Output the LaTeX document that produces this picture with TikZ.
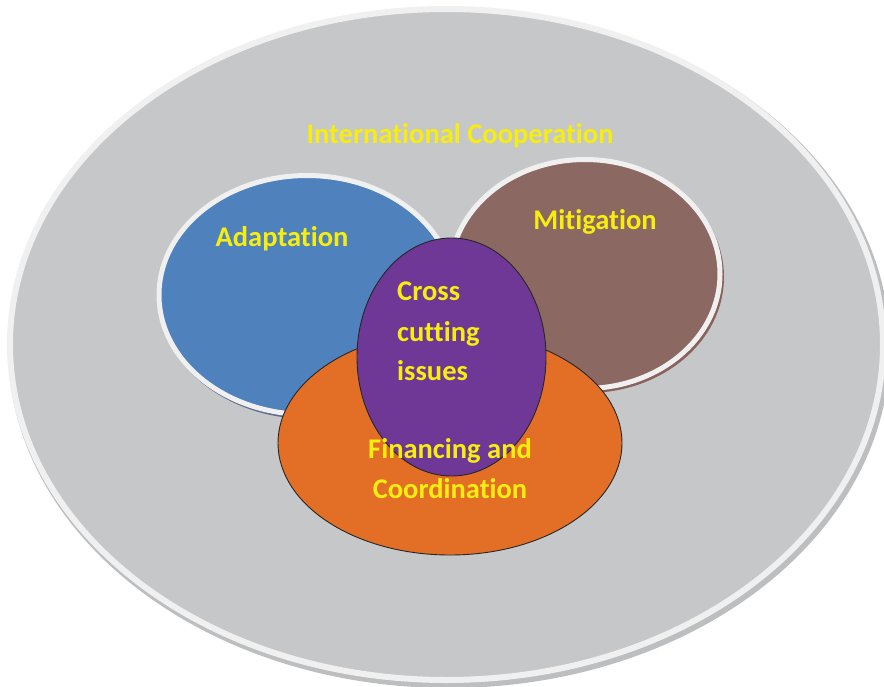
\documentclass[tikz,border=0pt]{standalone}
\usepackage{fontspec}
\setmainfont{Carlito}[Ligatures={NoCommon}]
\usetikzlibrary{shapes.geometric}
\definecolor{outerfill}{HTML}{C6C7C9}
\definecolor{rim}{HTML}{F0F0F0}
\definecolor{outershadow}{HTML}{BDBEC0}
\definecolor{adaptblue}{HTML}{4F81BD}
\definecolor{blueshadow}{HTML}{5F6B8C}
\definecolor{mitbrown}{HTML}{8B6862}
\definecolor{brownshadow}{HTML}{8A625B}
\definecolor{finorange}{HTML}{E36F26}
\definecolor{crosspurple}{HTML}{6F3896}
\definecolor{txtyellow}{HTML}{F7EE0F}
\tikzset{
  blob/.style={ellipse, inner sep=0pt, outer sep=0pt},
  rimmed/.style={blob, draw=rim, line width=5pt},
  outlined/.style={blob, draw=black!85, line width=0.9pt},
  lbl/.style={text=txtyellow, font=\bfseries\fontsize{28.5}{40}\selectfont, inner sep=0pt, anchor=base},
}
\begin{document}
\begin{tikzpicture}[x=1pt,y=-1pt]
\useasboundingbox[fill=white] (0,0) rectangle (884,686);
% outer
\node[blob, fill=outershadow, minimum width=882pt, minimum height=680pt] (outersh) at (449,348) {};
\node[blob, fill=outerfill, draw=rim, line width=6pt, minimum width=873pt, minimum height=671pt] (outer) at (446.5,344.5) {};
% adaptation
\node[blob, fill=blueshadow, minimum width=300pt, minimum height=242pt] (adaptsh) at (309,298) {};
\node[rimmed, fill=adaptblue, minimum width=296pt, minimum height=239pt] (adapt) at (307,295) {};
% mitigation
\node[blob, fill=brownshadow, minimum width=274pt, minimum height=232pt] (mitsh) at (587,277) {};
\node[rimmed, fill=mitbrown, minimum width=270pt, minimum height=229pt] (mit) at (585,274) {};
% financing
\node[outlined, fill=finorange, minimum width=344pt, minimum height=224pt] (fin) at (450,443) {};
% cross cutting
\node[outlined, fill=crosspurple, minimum width=189pt, minimum height=238pt] (cross) at (451.5,357) {};
% labels
\node[lbl] (tIC) at (460,143) {International Cooperation};
\node[lbl] (tA) at (282,246) {Adaptation};
\node[lbl] (tM) at (595,229) {Mitigation};
\node[lbl, anchor=base west] (tC1) at (397,300) {Cross};
\node[lbl, anchor=base west] (tC2) at (397,341) {cutting};
\node[lbl, anchor=base west] (tC3) at (397,380) {issues};
\node[lbl] (tF1) at (450,458) {Financing and};
\node[lbl] (tF2) at (450,498) {Coordination};
\end{tikzpicture}
\end{document}
